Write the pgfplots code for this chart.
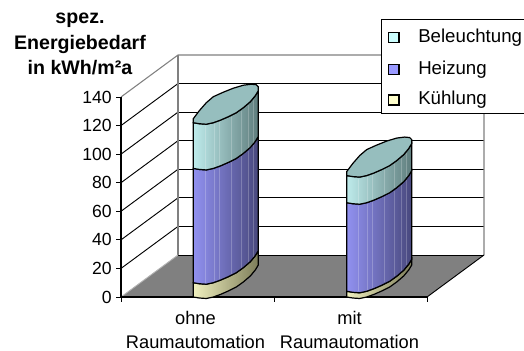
\documentclass[border=0pt]{standalone}
\usepackage{pgfplots}
\usepackage{pgfplotstable}
\usepackage{fontspec}
\setmainfont{Liberation Sans}
\pgfplotsset{compat=1.18}
\usetikzlibrary{calc}

% energy demand per case, bottom to top of the stack
\pgfplotstableread{
kuehlung heizung beleuchtung
10 80 32
4 62 19
}\energy

% outline of one cylinder slice: front curve at the lower value, back up at the upper value
\pgfplotstableread{
dx dy up
0 0 0
6 -1 0
13 -1.5 0
20 0 0
27 2.5 0
35 6 0
43 10 0
50 15 0
57 21 0
62 27 0
65 32 0
65 32 1
62 27 1
57 21 1
50 15 1
43 10 1
35 6 1
27 2.5 1
20 0 1
13 -1.5 1
6 -1 1
0 0 1
}\sideoutline

% elliptical lid of a cylinder
\pgfplotstableread{
dx dy
0 0
6 -1
13 -1.5
20 0
27 2.5
35 6
43 10
50 15
57 21
62 27
65 32
65 36
63 38
58 38.5
50 37.5
40 34.5
30 30.5
20 26
13 20
6 12
0 4
}\lidoutline

% lighter facets on the cylinder wall
\pgfplotstableread{
dx dy
12 -1.5
21 0.3
26 2.2
38 7.5
48 13.5
55 19
60 24.5
}\facets

\definecolor{kuehlL}{RGB}{240,240,190}
\definecolor{kuehlR}{RGB}{125,125,90}
\definecolor{heizL}{RGB}{145,145,240}
\definecolor{heizR}{RGB}{72,72,125}
\definecolor{lichtL}{RGB}{190,235,235}
\definecolor{lichtR}{RGB}{95,125,125}
\definecolor{lid}{RGB}{150,190,190}
\definecolor{wall}{RGB}{128,128,128}
\definecolor{lichtBox}{RGB}{204,255,255}
\definecolor{heizBox}{RGB}{153,153,255}
\definecolor{kuehlBox}{RGB}{255,255,204}

\pgfmathsetmacro{\pxperunit}{200/140}

% one slice of a stack; x position, lower and upper value, two colours
\newcommand{\slice}[5]{%
  \addplot[draw=black,line width=0.9pt,left color=#4,right color=#5,shading angle=90]
    table[x expr=\thisrow{dx}+#1,
          y expr=(\thisrow{up}>0 ? #3 : #2)+\thisrow{dy}/\pxperunit] {\sideoutline} -- cycle;
}
% faint vertical facet lines between two values
\newcommand{\facetlines}[3]{%
  \pgfplotsforeachungrouped \k in {0,...,6}{%
    \pgfplotstablegetelem{\k}{dx}\of\facets\let\fdx\pgfplotsretval
    \pgfplotstablegetelem{\k}{dy}\of\facets\let\fdy\pgfplotsretval
    \pgfmathsetmacro{\fx}{\fdx+#1}
    \pgfmathsetmacro{\fa}{#2+\fdy/\pxperunit+1}
    \pgfmathsetmacro{\fb}{#3+\fdy/\pxperunit-1}
    \edef\temp{\noexpand\addplot[white,opacity=0.22,line width=0.8pt,forget plot]
      coordinates {(\fx,\fa) (\fx,\fb)};}
    \temp
  }%
}
% a whole stacked cylinder, drawn from one row of the table
\newcommand{\stack}[2]{%
  \pgfplotstablegetelem{#1}{kuehlung}\of\energy\let\vk\pgfplotsretval
  \pgfplotstablegetelem{#1}{heizung}\of\energy\let\vh\pgfplotsretval
  \pgfplotstablegetelem{#1}{beleuchtung}\of\energy\let\vb\pgfplotsretval
  \pgfmathsetmacro{\sa}{\vk}
  \pgfmathsetmacro{\sb}{\vk+\vh}
  \pgfmathsetmacro{\sc}{\vk+\vh+\vb}
  \edef\temp{%
    \noexpand\slice{#2}{0}{\sa}{kuehlL}{kuehlR}
    \noexpand\slice{#2}{\sa}{\sb}{heizL}{heizR}
    \noexpand\slice{#2}{\sb}{\sc}{lichtL}{lichtR}
    \noexpand\facetlines{#2}{\sa}{\sb}
    \noexpand\facetlines{#2}{\sb}{\sc}
  }\temp
  \addplot[draw=black,line width=0.9pt,fill=lid]
    table[x expr=\thisrow{dx}+#2,y expr=\sc+\thisrow{dy}/\pxperunit] {\lidoutline} -- cycle;
}

\begin{document}
\begin{tikzpicture}[x=0.75pt,y=0.75pt]
\useasboundingbox (-121,-53) rectangle (403,297);
\begin{axis}[
  at={(0,0)},anchor=origin,
  scale only axis,
  width=272.25pt,height=181.5pt,
  xmin=121,xmax=484,ymin=0,ymax=169.4,
  clip=false,
  axis x line*=bottom,axis y line*=left,
  axis line style={draw=none},
  tick style={black,line width=0.7pt},
  tick align=outside,
  major tick length=3.5pt,
  xtick={121,274,427},xticklabels={,,},
  ytick={0,20,...,140},
  yticklabel style={font=\fontsize{13.2}{15}\selectfont},
  /pgf/number format/assume math mode=true,
  legend style={at={(0,0)},draw=none},
  legend entries={},
]
% floor
\addplot[fill=wall,draw=none] coordinates {(121,0) (427,0) (484,29.4) (178,29.4)} -- cycle;
% back wall and side wall rules
\addplot[black,line width=0.7pt,forget plot] coordinates {(178,49.4) (484,49.4)};
\addplot[black,line width=0.7pt,forget plot] coordinates {(178,69.4) (484,69.4)};
\addplot[black,line width=0.7pt,forget plot] coordinates {(178,89.4) (484,89.4)};
\addplot[black,line width=0.7pt,forget plot] coordinates {(178,109.4) (484,109.4)};
\addplot[black,line width=0.7pt,forget plot] coordinates {(178,129.4) (484,129.4)};
\addplot[black,line width=0.7pt,forget plot] coordinates {(178,149.4) (484,149.4)};
\addplot[black,line width=0.7pt,forget plot] coordinates {(121,20) (178,49.4)};
\addplot[black,line width=0.7pt,forget plot] coordinates {(121,40) (178,69.4)};
\addplot[black,line width=0.7pt,forget plot] coordinates {(121,60) (178,89.4)};
\addplot[black,line width=0.7pt,forget plot] coordinates {(121,80) (178,109.4)};
\addplot[black,line width=0.7pt,forget plot] coordinates {(121,100) (178,129.4)};
\addplot[black,line width=0.7pt,forget plot] coordinates {(121,120) (178,149.4)};
% wall frame
\addplot[wall,line width=0.8pt,forget plot] coordinates {(121,140) (178,169.4) (484,169.4) (484,29.4)};
\addplot[wall,line width=0.8pt,forget plot] coordinates {(178,169.4) (178,29.4)};
% floor edges and front axis
\addplot[black,line width=0.7pt,forget plot] coordinates {(427,0) (484,29.4)};
\addplot[black,line width=0.7pt,forget plot] coordinates {(178,29.4) (484,29.4)};
\addplot[wall!60!white,line width=0.7pt,forget plot] coordinates {(121,0) (178,29.4)};
\addplot[black,line width=0.9pt,forget plot] coordinates {(121,140) (121,0) (427,0)};
% stacked cylinders
\stack{0}{193.3}
\stack{1}{346.7}
\end{axis}
% category names
\foreach \xx/\nm in {195.5/ohne,349.5/mit}{
  \node[font=\fontsize{13.7}{16}\selectfont] at (\xx-121,297-318) {\nm};
  \node[font=\fontsize{13.7}{16}\selectfont,inner sep=0pt] at (\xx-121,297-341.5) {Raumautomation};
}
% title of the value axis
\node[font=\fontsize{14.7}{17}\selectfont\bfseries] at (80-121,297-20) {spez.};
\node[font=\fontsize{14.7}{17}\selectfont\bfseries] at (80-121,297-44) {Energiebedarf};
\node[font=\fontsize{14.7}{17}\selectfont\bfseries] at (80-121,297-68) {in kWh/m²a};
% key
\draw[black,line width=0.7pt,fill=white] (381.7-121,297-19.3) rectangle (530-121,297-113);
\foreach \yy/\cc/\tx in {37.5/lichtBox/Beleuchtung,69.5/heizBox/Heizung,100/kuehlBox/Kühlung}{
  \draw[black,line width=0.9pt,fill=\cc] (388.5-121,297-\yy-5) rectangle (399-121,297-\yy+5);
  \node[anchor=west,inner sep=0pt,font=\fontsize{14}{16}\selectfont] at (418-121,297-\yy) {\tx};
}
\end{tikzpicture}
\end{document}
